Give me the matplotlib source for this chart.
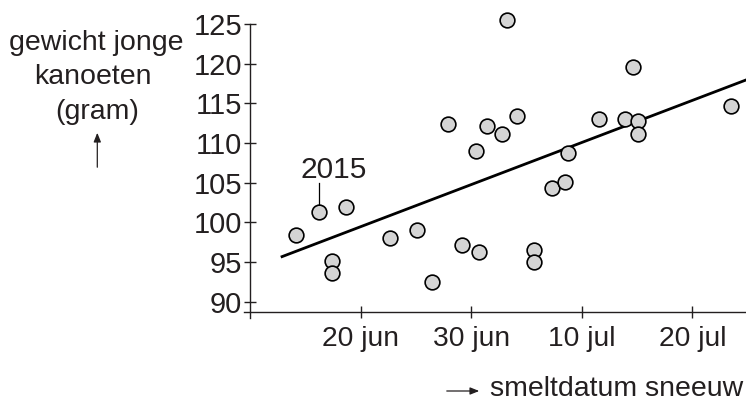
import matplotlib
matplotlib.use("Agg")
import matplotlib.pyplot as plt

# data (x = day of year, 171 = 20 jun)
melt_day = [165.2, 167.2, 168.4, 168.4, 169.7, 173.7, 176.1, 177.5, 178.9,
            180.2, 181.4, 181.7, 182.4, 183.8, 184.2, 185.1, 186.7, 186.7,
            188.3, 189.5, 189.8, 192.6, 194.9, 195.6, 196.1, 196.1, 204.5]
chick_weight = [98.4, 101.3, 95.1, 93.7, 102.0, 98.1, 99.1, 92.5, 112.4,
                97.2, 109.0, 96.25, 112.2, 111.2, 125.5, 113.4, 96.5, 95.05,
                104.3, 105.1, 108.7, 113.0, 113.0, 119.55, 112.8, 111.2, 114.7]

trend_x = [163.9, 205.85]
trend_y = [95.7, 117.95]

x_ticks = [171, 181, 191, 201]
x_labels = ["20 jun", "30 jun", "10 jul", "20 jul"]
y_ticks = [90, 95, 100, 105, 110, 115, 120, 125]

ink = "#231f20"
plt.rcParams["font.family"] = ["Liberation Sans", "DejaVu Sans"]
plt.rcParams["font.size"] = 20.5

W, H = 746, 400
fig = plt.figure(figsize=(W / 100, H / 100), dpi=100)
ax = fig.add_axes([244 / W, 82 / H, (W - 244) / W, 294 / H])
ax.set_xlim(160.46, 205.85)
ax.set_ylim(87.97, 125)
ax.patch.set_alpha(0)

ax.plot(trend_x, trend_y, color="black", lw=2.0, zorder=2)
ax.plot(melt_day, chick_weight, "o", ms=10.6, mfc="#d4d4d4", mec="black",
        mew=1.2, zorder=3, clip_on=False)

# label for 2015 point
ax.text(168.55, 105.57, "2015", ha="center", va="baseline", color=ink, fontsize=21.5)
ax.plot([167.25, 167.25], [102.3, 104.95], color="black", lw=0.9)

for s in ["top", "right"]:
    ax.spines[s].set_visible(False)
ax.spines["left"].set_position(("data", 161))
ax.spines["left"].set_bounds(87.97, 125)
ax.spines["bottom"].set_position(("data", 88.73))
ax.spines["bottom"].set_bounds(160.46, 205.85)
for s in ["left", "bottom"]:
    ax.spines[s].set_linewidth(1.0)
    ax.spines[s].set_color(ink)

ax.set_xticks(x_ticks)
ax.set_xticklabels(x_labels)
ax.set_yticks(y_ticks)
ax.tick_params(direction="inout", length=8.6, width=1.0, color=ink, labelcolor=ink)
ax.tick_params(axis="y", pad=1.2, labelsize=21)
ax.tick_params(axis="x", pad=6, labelsize=20.3)

# y-axis label with arrow
fig.text(96.7 / W, 1 - 50 / H, "gewicht jonge", ha="center", va="baseline", color=ink)
fig.text(92.7 / W, 1 - 84.3 / H, "kanoeten", ha="center", va="baseline", color=ink)
fig.text(96.7 / W, 1 - 119 / H, "(gram)", ha="center", va="baseline", color=ink)
fig.add_artist(matplotlib.patches.FancyArrowPatch(
    (97.3 / W, 1 - 170 / H), (97.3 / W, 1 - 130 / H), transform=fig.transFigure,
    arrowstyle="-|>,head_length=0.45,head_width=0.18", mutation_scale=12,
    lw=0.9, color=ink))

# x-axis label with arrow
fig.text(489.5 / W, 1 - 396 / H, "smeltdatum sneeuw", ha="left", va="baseline", color=ink)
fig.add_artist(matplotlib.patches.FancyArrowPatch(
    (444 / W, 1 - 391 / H), (482 / W, 1 - 391 / H), transform=fig.transFigure,
    arrowstyle="-|>,head_length=0.45,head_width=0.18", mutation_scale=12,
    lw=0.9, color=ink))

fig.savefig("out.png", dpi=100)
